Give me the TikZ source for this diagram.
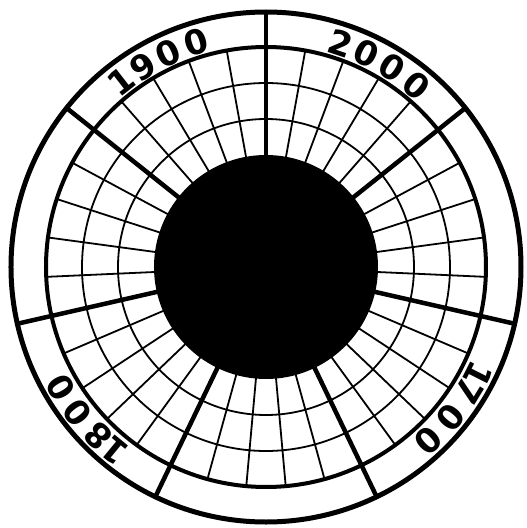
\documentclass[tikz,border=0pt]{standalone}
\usepackage{fontspec}
\newfontfamily\digitfont{DejaVu Sans}
\begin{document}
\begin{tikzpicture}[x=1pt,y=1pt,
  thinline/.style={line width=1.8pt},
  thickline/.style={line width=4.5pt},
  ringline/.style={line width=4pt},
  outerline/.style={line width=5pt},
  digit/.style={font=\digitfont\bfseries\fontsize{34}{34}\selectfont, inner sep=0pt, anchor=center}]
\fill[white] (-266,-261) rectangle (261,267);
\useasboundingbox (-266,-261) rectangle (261,267);
\coordinate (c) at (0,0);
% grid
\foreach \r in {148,184} \draw[thinline] (c) circle (\r);
\foreach \k in {0,...,34}{
  \pgfmathtruncatemacro\m{mod(\k,5)}
  \ifnum\m=0 \else
    \draw[thinline] (90+\k*360/35:110) -- (90+\k*360/35:220);
  \fi
}
\draw[ringline] (c) circle (220);
\draw[outerline] (c) circle (255);
\foreach \k in {0,...,6}
  \draw[thickline] (90+\k*360/7:100) -- (90+\k*360/7:255);
% central disk
\fill (c) circle (112);
% labels (each digit along the ring, tops outward, reading clockwise)
\foreach \ch/\a [count=\i] in {1/128,9/121.6,0/114.6,0/107.2}
  \node[digit, rotate=\a-90] (ya\i) at (\a:235) {\ch};
\foreach \ch/\a [count=\i] in {2/71.5,0/64.9,0/57.8,0/50.3}
  \node[digit, rotate=\a-90] (yb\i) at (\a:236) {\ch};
\foreach \ch/\a [count=\i] in {1/230.6,8/225.3,0/217.8,0/210.4}
  \node[digit, rotate=\a-90] (yc\i) at (\a:238) {\ch};
\foreach \ch/\a [count=\i] in {1/-26.8,7/-31.4,0/-39.2,0/-46.9}
  \node[digit, rotate=\a-90] (yd\i) at (\a:238) {\ch};
\end{tikzpicture}
\end{document}
